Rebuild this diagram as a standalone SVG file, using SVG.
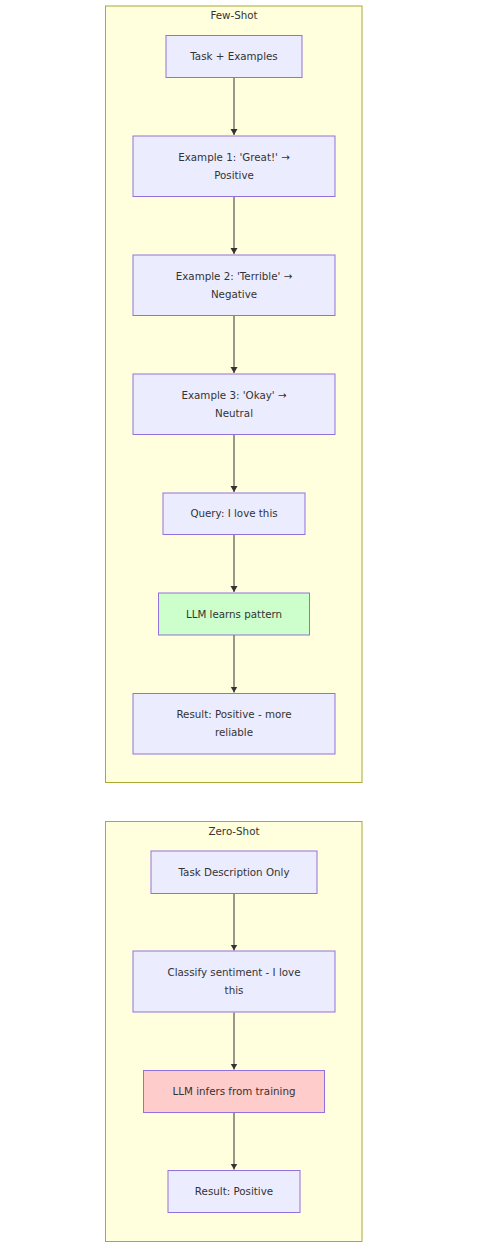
<svg xmlns="http://www.w3.org/2000/svg" width="489" height="1248" viewBox="0 0 489 1248">
<style>
.cl{fill:#ffffde;stroke:#aaaa33;stroke-width:1}
.nd{fill:#ececff;stroke:#9370db;stroke-width:1}
.g{fill:#ccffcc}
.r{fill:#ffcccc}
text{font-family:"DejaVu Sans",sans-serif;font-size:10.3px;fill:#333;text-anchor:middle}
.ed{stroke:#333;stroke-width:1;fill:none}
</style>
<defs>
<marker id="ah" markerWidth="8" markerHeight="8" refX="6" refY="3.5" orient="auto" markerUnits="userSpaceOnUse">
<path d="M0,0 L6,3.5 L0,7 z" fill="#333"/>
</marker>
</defs>
<rect width="489" height="1248" fill="#fff"/>
<g id="cluster-few">
<rect class="cl" x="105.5" y="6" width="256.5" height="776.5"/>
<text x="234" y="19">Few-Shot</text>
</g>
<g id="cluster-zero">
<rect class="cl" x="105.5" y="821.5" width="256.5" height="420"/>
<text x="234" y="835">Zero-Shot</text>
</g>
<g id="edges">
<path class="ed" d="M234,77.5 V135" marker-end="url(#ah)"/>
<path class="ed" d="M234,196.5 V254" marker-end="url(#ah)"/>
<path class="ed" d="M234,315.5 V373" marker-end="url(#ah)"/>
<path class="ed" d="M234,434.5 V492" marker-end="url(#ah)"/>
<path class="ed" d="M234,534.5 V592" marker-end="url(#ah)"/>
<path class="ed" d="M234,635 V692.5" marker-end="url(#ah)"/>
<path class="ed" d="M234,893.5 V950.5" marker-end="url(#ah)"/>
<path class="ed" d="M234,1012.5 V1069.5" marker-end="url(#ah)"/>
<path class="ed" d="M234,1112.5 V1169.5" marker-end="url(#ah)"/>
</g>
<g id="n1"><rect class="nd" x="166" y="35.5" width="136" height="42"/><text x="234" y="60">Task + Examples</text></g>
<g id="n2"><rect class="nd" x="133" y="136" width="202" height="60.5"/><text x="234" y="160.5">Example 1: 'Great!' →</text><text x="234" y="178.5">Positive</text></g>
<g id="n3"><rect class="nd" x="133" y="255" width="202" height="60.5"/><text x="234" y="279.5">Example 2: 'Terrible' →</text><text x="234" y="297.5">Negative</text></g>
<g id="n4"><rect class="nd" x="133" y="374" width="202" height="60.5"/><text x="234" y="398.5">Example 3: 'Okay' →</text><text x="234" y="416.5">Neutral</text></g>
<g id="n5"><rect class="nd" x="163" y="493" width="142" height="41.5"/><text x="234" y="517">Query: I love this</text></g>
<g id="n6"><rect class="nd g" x="158.5" y="593" width="151" height="42"/><text x="234" y="617.5">LLM learns pattern</text></g>
<g id="n7"><rect class="nd" x="133" y="693.5" width="202" height="60.5"/><text x="234" y="718">Result: Positive - more</text><text x="234" y="736">reliable</text></g>
<g id="z1"><rect class="nd" x="151" y="851" width="166" height="42.5"/><text x="234" y="875.5">Task Description Only</text></g>
<g id="z2"><rect class="nd" x="133" y="951" width="202" height="61"/><text x="234" y="975.5">Classify sentiment - I love</text><text x="234" y="993.5">this</text></g>
<g id="z3"><rect class="nd r" x="143.5" y="1070.5" width="181" height="42"/><text x="234" y="1095">LLM infers from training</text></g>
<g id="z4"><rect class="nd" x="168" y="1170.5" width="132" height="42"/><text x="234" y="1195">Result: Positive</text></g>
</svg>
